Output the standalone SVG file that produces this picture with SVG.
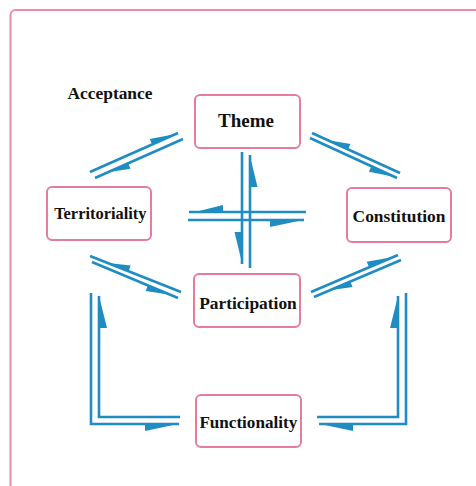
<svg xmlns="http://www.w3.org/2000/svg" width="476" height="486" viewBox="0 0 476 486">
<style>
.frame{fill:none;stroke:#ec8aa8;stroke-width:2}
.box{fill:#fff;stroke:#e67c9c;stroke-width:2}
.lbl{font-family:"Liberation Serif","Times New Roman",serif;font-weight:bold;fill:#111;text-anchor:middle}
.ln{fill:none;stroke:#1f8dc1;stroke-width:2.6}
.hd{fill:#1f8dc1;stroke:none}
</style>
<rect width="476" height="486" fill="#fff"/>
<rect class="frame" x="10.5" y="10" width="480" height="490" rx="5"/>
<text class="lbl" x="110" y="99" font-size="17.4">Acceptance</text>
<g id="connectors">
  <!-- Territoriality <-> Theme -->
  <path class="ln" d="M90,172 L178,133"/>
  <path class="ln" d="M95,178 L183,139"/>
  <polygon class="hd" points="176,134 149.8,139 152.2,144.5"/>
  <polygon class="hd" points="108,172.2 130.5,168.8 128.1,163.3"/>
  <!-- Theme <-> Constitution -->
  <path class="ln" d="M312,133 L400,173"/>
  <path class="ln" d="M310,138 L397,178"/>
  <polygon class="hd" points="328,140.3 350.5,143.9 348,149.4"/>
  <polygon class="hd" points="395,177.1 368.9,171.7 371.4,166.2"/>
  <!-- Territoriality <-> Participation -->
  <path class="ln" d="M90,256 L181,292"/>
  <path class="ln" d="M92,262 L178,298"/>
  <polygon class="hd" points="108,263.1 130.7,265.6 128.5,271.2"/>
  <polygon class="hd" points="170,294.7 145.6,290.9 147.9,285.4"/>
  <!-- Participation <-> Constitution -->
  <path class="ln" d="M311,292 L398,255"/>
  <path class="ln" d="M314,297 L401,260"/>
  <polygon class="hd" points="393,257.1 366.7,261.8 369.1,267.3"/>
  <polygon class="hd" points="330,290.2 352.6,287.1 350.2,281.6"/>
  <!-- Theme <-> Participation (vertical) -->
  <path class="ln" d="M242,152 V264"/>
  <path class="ln" d="M250,155 V268"/>
  <polygon class="hd" points="250,156 257.5,187 250,187"/>
  <polygon class="hd" points="242,263 234.5,232 242,232"/>
  <!-- Territoriality <-> Constitution (horizontal) -->
  <path class="ln" d="M189,212 H306"/>
  <path class="ln" d="M188,220 H304"/>
  <polygon class="hd" points="195,212 223,205 223,212"/>
  <polygon class="hd" points="303,220 270,227 270,220"/>
  <!-- Territoriality <-> Functionality -->
  <path class="ln" d="M91,293 V424 H179"/>
  <path class="ln" d="M99,296 V417 H180"/>
  <polygon class="hd" points="99,296 107,328 99,328"/>
  <polygon class="hd" points="178,424 145,431 145,424"/>
  <!-- Constitution <-> Functionality -->
  <path class="ln" d="M406,293 V424 H319"/>
  <path class="ln" d="M398,296 V417 H317"/>
  <polygon class="hd" points="398,296 390,328 398,328"/>
  <polygon class="hd" points="320,424 353,431 353,424"/>
</g>
<g id="theme">
  <rect class="box" x="195" y="95" width="105" height="53" rx="5"/>
  <text class="lbl" x="246" y="126.5" font-size="19">Theme</text>
</g>
<g id="territoriality">
  <rect class="box" x="47" y="187" width="104" height="53" rx="5"/>
  <text class="lbl" x="100.3" y="218.5" font-size="16.4">Territoriality</text>
</g>
<g id="constitution">
  <rect class="box" x="347" y="188" width="104" height="54" rx="5"/>
  <text class="lbl" x="399" y="221.5" font-size="17.4">Constitution</text>
</g>
<g id="participation">
  <rect class="box" x="194" y="274" width="106" height="53" rx="5"/>
  <text class="lbl" x="248" y="308.5" font-size="17.4">Participation</text>
</g>
<g id="functionality">
  <rect class="box" x="196" y="395" width="105" height="52" rx="5"/>
  <text class="lbl" x="248.3" y="427.5" font-size="17.1">Functionality</text>
</g>
</svg>
